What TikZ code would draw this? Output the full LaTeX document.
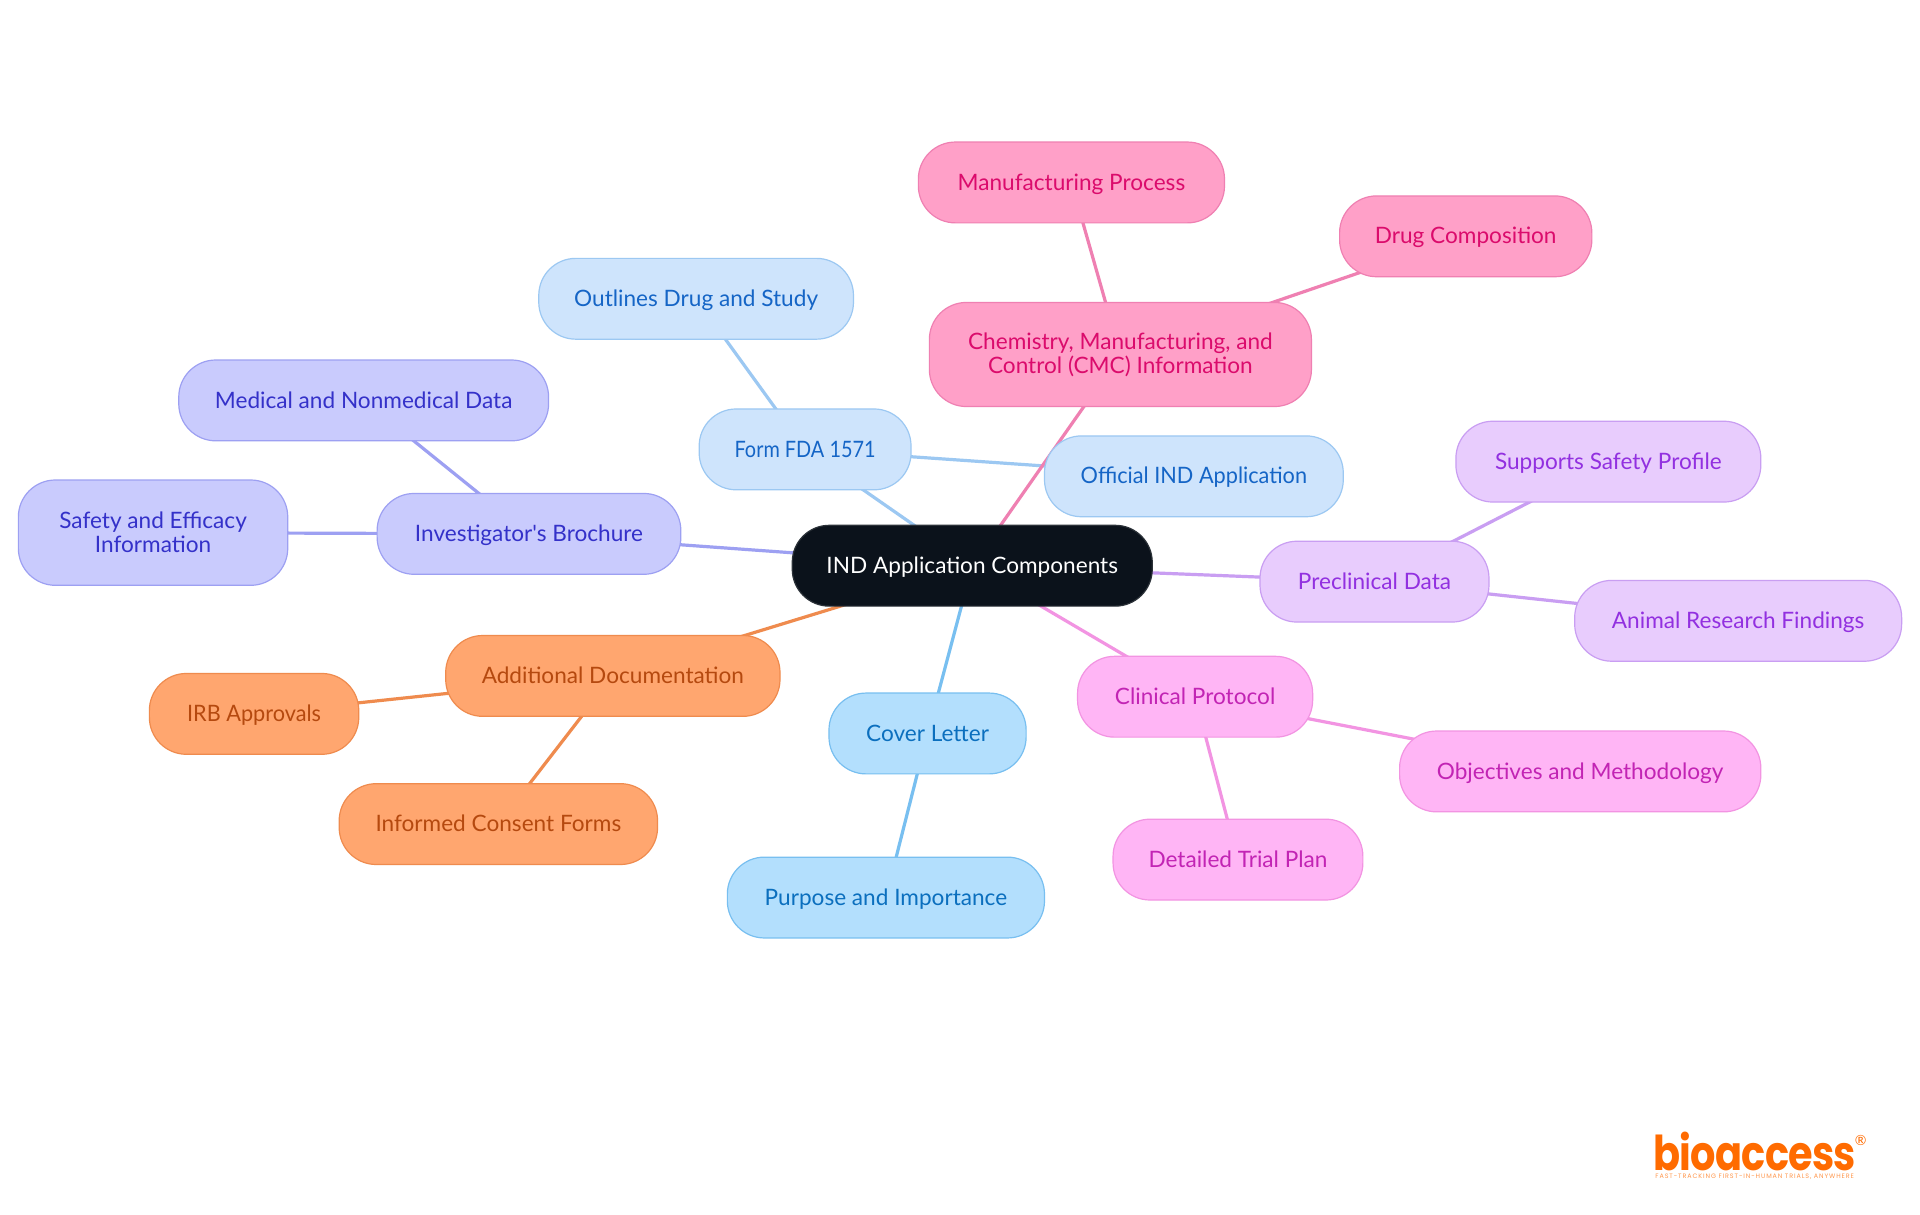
\documentclass[tikz,border=0pt]{standalone}
\usepackage{fontspec}
\newfontfamily\mapfont{Lato}
\newfontfamily\logofont{Poppins}[LetterSpace=-2]
\newfontfamily\tagfont{Poppins}[LetterSpace=14]
\usetikzlibrary{backgrounds}
\definecolor{rootF}{HTML}{0B121B}\definecolor{rootD}{HTML}{2B3138}
\definecolor{covF}{HTML}{B3DFFD}\definecolor{covD}{HTML}{78BFF0}\definecolor{covT}{HTML}{0B6FBE}
\definecolor{frmF}{HTML}{CEE4FC}\definecolor{frmD}{HTML}{9CC8F2}\definecolor{frmT}{HTML}{1565C6}
\definecolor{invF}{HTML}{C9CBFD}\definecolor{invD}{HTML}{9DA0F2}\definecolor{invT}{HTML}{3431C9}
\definecolor{preF}{HTML}{E8CCFD}\definecolor{preD}{HTML}{C99EF2}\definecolor{preT}{HTML}{9230E0}
\definecolor{cliF}{HTML}{FFB5F5}\definecolor{cliD}{HTML}{F294E2}\definecolor{cliT}{HTML}{C224B4}
\definecolor{cmcF}{HTML}{FFA0C8}\definecolor{cmcD}{HTML}{EF80B2}\definecolor{cmcT}{HTML}{DB0B6C}
\definecolor{addF}{HTML}{FFA66F}\definecolor{addD}{HTML}{EF8B4E}\definecolor{addT}{HTML}{B5490F}
\definecolor{logoC}{HTML}{FF6B00}
\tikzset{
  mapbox/.style={rounded corners=37pt,line width=1.2pt,inner sep=0pt,align=center,
    font=\mapfont\fontsize{22.6}{24}\selectfont},
  rootbox/.style={mapbox,draw=rootD,fill=rootF,text=white},
  covbox/.style={mapbox,draw=covD,fill=covF,text=covT},
  frmbox/.style={mapbox,draw=frmD,fill=frmF,text=frmT},
  invbox/.style={mapbox,draw=invD,fill=invF,text=invT},
  prebox/.style={mapbox,draw=preD,fill=preF,text=preT},
  clibox/.style={mapbox,draw=cliD,fill=cliF,text=cliT},
  cmcbox/.style={mapbox,draw=cmcD,fill=cmcF,text=cmcT},
  addbox/.style={mapbox,draw=addD,fill=addF,text=addT},
  oneline/.style={text height=20pt,text depth=4.7pt},
  covline/.style={draw=covD,line width=3.2pt},
  frmline/.style={draw=frmD,line width=3.2pt},
  invline/.style={draw=invD,line width=3.2pt},
  preline/.style={draw=preD,line width=3.2pt},
  cliline/.style={draw=cliD,line width=3.2pt},
  cmcline/.style={draw=cmcD,line width=3.2pt},
  addline/.style={draw=addD,line width=3.2pt},
}
% name, x1, x2, y1, y2 (reference units), style, text
\newcommand{\mapnode}[7]{%
  \pgfmathsetmacro{\mnW}{(#3-#2)*1.2245}%
  \pgfmathsetmacro{\mnH}{(#5-#4)*1.2245}%
  \node[#6,minimum width=\mnW pt,minimum height=\mnH pt] (#1) at ({(#2+#3)/2},{(#4+#5)/2}) {#7};}
\begin{document}
\begin{tikzpicture}[x=1.2245pt,y=-1.2245pt]
\useasboundingbox (0,0) rectangle (1568,992.2);
\mapnode{root}{647}{941}{429}{495}{rootbox,oneline}{IND Application Components}
\mapnode{form}{571}{744}{334}{400}{frmbox,oneline}{\scalebox{0.88}[1]{Form FDA 1571}}
\mapnode{outl}{440}{697}{211}{277}{frmbox,oneline}{Outlines Drug and Study}
\mapnode{offi}{853}{1097}{356}{422}{frmbox,oneline}{\scalebox{0.96}[1]{Official IND Application}}
\mapnode{cmc}{759}{1071}{247}{332}{cmcbox}{Chemistry, Manufacturing, and\\Control (CMC) Information}
\mapnode{manu}{750}{1000}{116}{182}{cmcbox,oneline}{Manufacturing Process}
\mapnode{drug}{1094}{1300}{160}{226}{cmcbox,oneline}{Drug Composition}
\mapnode{inve}{308}{556}{403}{469}{invbox,oneline}{Investigator's Brochure}
\mapnode{medi}{146}{448}{294}{360}{invbox,oneline}{Medical and Nonmedical Data}
\mapnode{safe}{15}{235}{392}{478}{invbox}{Safety and Efficacy\\Information}
\mapnode{prec}{1029}{1216}{442}{508}{prebox,oneline}{Preclinical Data}
\mapnode{supp}{1189}{1438}{344}{410}{prebox,oneline}{Supports Safety Profile}
\mapnode{anim}{1286}{1553}{474}{540}{prebox,oneline}{Animal Research Findings}
\mapnode{clin}{880}{1072}{536}{602}{clibox,oneline}{Clinical Protocol}
\mapnode{obje}{1143}{1438}{597}{663}{clibox,oneline}{Objectives and Methodology}
\mapnode{deta}{909}{1113}{669}{735}{clibox,oneline}{Detailed Trial Plan}
\mapnode{cove}{677}{838}{566}{632}{covbox,oneline}{Cover Letter}
\mapnode{purp}{594}{853}{700}{766}{covbox,oneline}{Purpose and Importance}
\mapnode{addi}{364}{637}{519}{585}{addbox,oneline}{Additional Documentation}
\mapnode{irb}{122}{293}{550}{616}{addbox,oneline}{\scalebox{0.96}[1]{IRB Approvals}}
\mapnode{info}{277}{537}{640}{706}{addbox,oneline}{Informed Consent Forms}
\begin{scope}[on background layer]
\fill[white] (0,0) rectangle (1568,992.2);
\draw[frmline] (root.center) -- (form.center);
\draw[frmline] (form.center) -- (outl.center);
\draw[frmline] (form.center) -- (offi.center);
\draw[cmcline] (root.center) -- (cmc.center);
\draw[cmcline] (cmc.center) -- (manu.center);
\draw[cmcline] (cmc.center) -- (drug.center);
\draw[invline] (root.center) -- (inve.center);
\draw[invline] (inve.center) -- (medi.center);
\draw[invline] (inve.center) -- (safe.center);
\draw[preline] (root.center) -- (prec.center);
\draw[preline] (prec.center) -- (supp.center);
\draw[preline] (prec.center) -- (anim.center);
\draw[cliline] (root.center) -- (clin.center);
\draw[cliline] (clin.center) -- (obje.center);
\draw[cliline] (clin.center) -- (deta.center);
\draw[covline] (root.center) -- (cove.center);
\draw[covline] (cove.center) -- (purp.center);
\draw[addline] (root.center) -- (addi.center);
\draw[addline] (addi.center) -- (irb.center);
\draw[addline] (addi.center) -- (info.center);
\end{scope}
% logo
\node[text=logoC,inner sep=0pt,font=\logofont\bfseries\fontsize{48}{48}\selectfont] (logo) at (1433,940) {\scalebox{0.83}[1]{bioaccess}};
\node[text=logoC,inner sep=0pt,font=\mapfont\fontsize{14}{14}\selectfont] (logor) at (1519.5,931) {®};
\node[text=logoC!70!white,inner sep=0pt,font=\tagfont\fontsize{6.4}{6.4}\selectfont] (logot) at (1433,961) {FAST-TRACKING FIRST-IN-HUMAN TRIALS, ANYWHERE};
\end{tikzpicture}
\end{document}
